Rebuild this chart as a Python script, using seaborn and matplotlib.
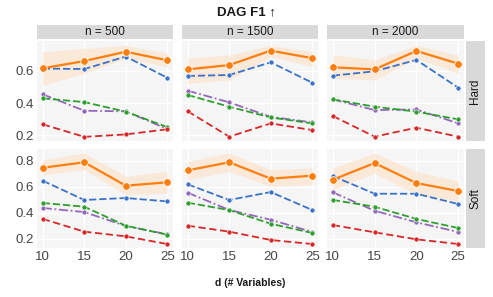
import numpy as np
import pandas as pd
import matplotlib
matplotlib.use("Agg")
import matplotlib.pyplot as plt
import seaborn as sns
from matplotlib.patches import Rectangle

# -------------------------
# Data
# -------------------------
d_values = [10, 15, 20, 25]
sample_sizes = [500, 1500, 2000]
settings = ["Hard", "Soft"]
methods = ["M1", "M2", "M3", "M4", "M5"]

# F1 per method, per (setting, n), over d = 10, 15, 20, 25
f1_hard_500 = {
    "M1": [0.617, 0.662, 0.720, 0.667],
    "M2": [0.615, 0.612, 0.690, 0.558],
    "M3": [0.454, 0.352, 0.348, 0.238],
    "M4": [0.429, 0.406, 0.346, 0.250],
    "M5": [0.267, 0.189, 0.204, 0.236],
}
f1_hard_1500 = {
    "M1": [0.610, 0.637, 0.727, 0.680],
    "M2": [0.569, 0.575, 0.654, 0.527],
    "M3": [0.477, 0.404, 0.314, 0.279],
    "M4": [0.450, 0.377, 0.310, 0.273],
    "M5": [0.348, 0.190, 0.273, 0.231],
}
f1_hard_2000 = {
    "M1": [0.623, 0.610, 0.725, 0.646],
    "M2": [0.571, 0.598, 0.669, 0.496],
    "M3": [0.423, 0.356, 0.360, 0.273],
    "M4": [0.423, 0.377, 0.346, 0.298],
    "M5": [0.319, 0.190, 0.246, 0.190],
}
f1_soft_500 = {
    "M1": [0.746, 0.788, 0.608, 0.634],
    "M2": [0.646, 0.498, 0.513, 0.487],
    "M3": [0.436, 0.405, 0.298, 0.234],
    "M4": [0.475, 0.446, 0.300, 0.231],
    "M5": [0.352, 0.254, 0.218, 0.159],
}
f1_soft_1500 = {
    "M1": [0.726, 0.788, 0.662, 0.685],
    "M2": [0.618, 0.498, 0.559, 0.421],
    "M3": [0.554, 0.421, 0.346, 0.252],
    "M4": [0.477, 0.420, 0.315, 0.244],
    "M5": [0.300, 0.254, 0.190, 0.159],
}
f1_soft_2000 = {
    "M1": [0.654, 0.782, 0.628, 0.567],
    "M2": [0.682, 0.546, 0.546, 0.467],
    "M3": [0.557, 0.415, 0.326, 0.252],
    "M4": [0.498, 0.446, 0.352, 0.282],
    "M5": [0.305, 0.249, 0.195, 0.159],
}

# confidence band of M1 (lower, upper)
band_hard_500 = ([0.510, 0.585, 0.680, 0.627], [0.720, 0.740, 0.760, 0.710])
band_hard_1500 = ([0.523, 0.544, 0.690, 0.627], [0.680, 0.700, 0.760, 0.720])
band_hard_2000 = ([0.554, 0.544, 0.680, 0.585], [0.700, 0.669, 0.760, 0.700])
band_soft_500 = ([0.692, 0.731, 0.540, 0.550], [0.808, 0.859, 0.680, 0.718])
band_soft_1500 = ([0.654, 0.718, 0.603, 0.616], [0.795, 0.859, 0.731, 0.744])
band_soft_2000 = ([0.577, 0.705, 0.540, 0.488], [0.744, 0.859, 0.718, 0.642])

panels = {
    ("Hard", 500): (f1_hard_500, band_hard_500),
    ("Hard", 1500): (f1_hard_1500, band_hard_1500),
    ("Hard", 2000): (f1_hard_2000, band_hard_2000),
    ("Soft", 500): (f1_soft_500, band_soft_500),
    ("Soft", 1500): (f1_soft_1500, band_soft_1500),
    ("Soft", 2000): (f1_soft_2000, band_soft_2000),
}

rows = []
for (setting, n), (vals, _) in panels.items():
    for m in methods:
        for d, v in zip(d_values, vals[m]):
            rows.append({"setting": setting, "n": n, "method": m, "d": d, "f1": v})
df = pd.DataFrame(rows)

# -------------------------
# Styling
# -------------------------
sns.set_theme(style="whitegrid")
plt.rcParams["font.family"] = ["Liberation Sans", "DejaVu Sans"]

palette = {"M1": "#FF7F0E", "M2": "#3A72C9", "M3": "#9467BD", "M4": "#2CA02C", "M5": "#D62728"}
dashes = {"M1": "", "M2": (4, 1.6), "M3": (5, 1.5, 1, 1.5), "M4": (4, 1.6), "M5": (4, 2)}

fig = plt.figure(figsize=(4.93, 2.97), dpi=100)
W, H = 493, 297

col_x = [(37, 173), (182, 318), (327, 464)]
row_y = [(40.7, 141), (149.3, 248.3)]
ylims = {"Hard": (0.163, 0.789), "Soft": (0.126, 0.888)}
yticks = {"Hard": [0.2, 0.4, 0.6], "Soft": [0.2, 0.4, 0.6, 0.8]}

def px_rect(x0, x1, y0, y1):
    return [x0 / W, 1 - y1 / H, (x1 - x0) / W, (y1 - y0) / H]

for ri, setting in enumerate(settings):
    for ci, n in enumerate(sample_sizes):
        ax = fig.add_axes(px_rect(*col_x[ci], *row_y[ri]))
        ax.set_facecolor("#F5F5F5")
        sub = df[(df["setting"] == setting) & (df["n"] == n)]
        lo, hi = panels[(setting, n)][1]
        ax.fill_between(d_values, lo, hi, color="#FDE3CC", alpha=0.7, lw=0, zorder=1)
        sns.lineplot(
            data=sub[sub["method"] != "M1"], x="d", y="f1", hue="method", style="method",
            palette=palette, dashes=dashes, markers={m: "o" for m in methods[1:]},
            markersize=3.6, markeredgecolor="white", markeredgewidth=0.4,
            linewidth=1.3, legend=False, ax=ax, zorder=3,
        )
        sns.lineplot(
            data=sub[sub["method"] == "M1"], x="d", y="f1", color=palette["M1"],
            marker="o", markersize=5.5, markeredgecolor="white", markeredgewidth=0.6,
            linewidth=1.6, legend=False, ax=ax, zorder=4,
        )
        ax.set_xlim(9.3, 25.7)
        ax.set_ylim(*ylims[setting])
        ax.set_xticks(d_values)
        ax.set_yticks(yticks[setting])
        ax.grid(True, color="white", linewidth=1.0)
        for s in ax.spines.values():
            s.set_visible(False)
        ax.set_xlabel("")
        ax.set_ylabel("")
        ax.tick_params(axis="both", labelsize=9.5, colors="#444444", length=0, pad=2)
        if ri == 0:
            ax.set_xticklabels([])
            ax.add_patch(Rectangle((0, 1.02), 1, 0.135, transform=ax.transAxes,
                                   facecolor="#D9D9D9", edgecolor="none", clip_on=False))
            ax.text(0.5, 1.087, f"n = {n}", transform=ax.transAxes, ha="center",
                    va="center", fontsize=8.5, color="#1A1A1A")
        else:
            ax.set_xticklabels([str(d) for d in d_values], fontsize=9.5)
        if ci > 0:
            ax.set_yticklabels([])
        if ci == 2:
            ax.add_patch(Rectangle((1.012, 0), 0.142, 1, transform=ax.transAxes,
                                   facecolor="#D9D9D9", edgecolor="none", clip_on=False))
            ax.text(1.083, 0.5, setting, transform=ax.transAxes, ha="center",
                    va="center", rotation=90, fontsize=8.5, color="#1A1A1A")

fig.text(0.5, 1 - 12 / H, "DAG F1 \u2191", ha="center", va="center",
         fontsize=9.5, fontweight="bold", color="#1A1A1A")
fig.text(250 / W, 1 - 283 / H, "d (# Variables)", ha="center", va="center",
         fontsize=7.5, fontweight="bold", color="#1A1A1A")

fig.savefig("out.png", dpi=100)
